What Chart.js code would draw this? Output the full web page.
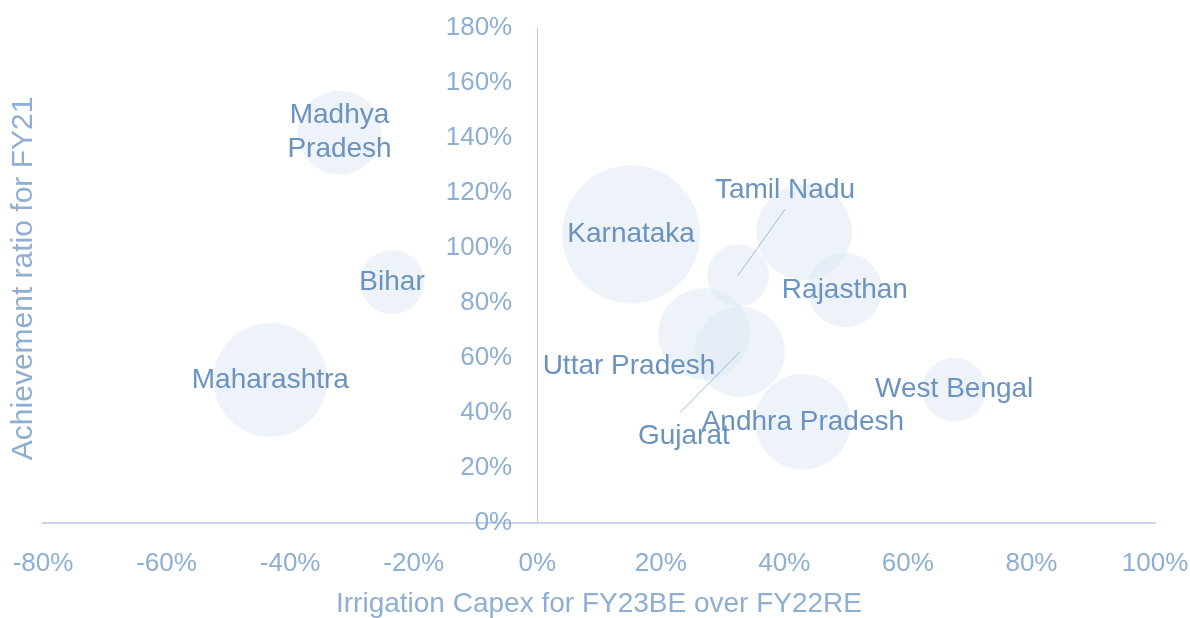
<!DOCTYPE html>
<html>
<head>
<meta charset="utf-8">
<script src="https://cdn.jsdelivr.net/npm/chart.js@4"></script>
<style>
  body { margin: 0; background: #fff; }
  #wrap { width: 1190px; height: 618px; }
</style>
</head>
<body>
<div id="wrap"><canvas id="myChart"></canvas></div>
<script>
// values
const states = ['Madhya Pradesh', 'Bihar', 'Maharashtra', 'Karnataka', '', 'Tamil Nadu',
  'Rajasthan', 'Uttar Pradesh', 'Gujarat', 'Andhra Pradesh', 'West Bengal'];
const capexGrowth = [-32, -23.5, -43.2, 15.2, 43.2, 32.5, 49.8, 27, 32.8, 43, 67.5];   // x, %
const achievementRatio = [142, 87.6, 52, 105, 105.8, 90, 84.7, 68.7, 62.2, 36.7, 48.4]; // y, %
const bubbleSize = [37, 21.5, 68, 100, 48, 20, 29, 44, 42.5, 48, 21.5];                 // relative
const xTicks = [-80, -60, -40, -20, 0, 20, 40, 60, 80, 100];
const yTicks = [0, 20, 40, 60, 80, 100, 120, 140, 160, 180];

// label placement (pixel offsets from bubble centre), only where label is not centred
const labelOffset = {
  'Tamil Nadu': {dx: 47, dy: -85, leader: [47, -66]},
  'Uttar Pradesh': {dx: -75, dy: 32},
  'Gujarat': {dx: -56, dy: 84, leader: [-60, 61]},
};
const wrapLabel = {'Madhya Pradesh': ['Madhya', 'Pradesh']};

const labelColor = '#6a93bf';
const tickColor = '#8eaed2';
const fontFamily = '"Liberation Sans", Arial, sans-serif';

const bubbleLabels = {
  id: 'bubbleLabels',
  afterDatasetsDraw(chart) {
    const ctx = chart.ctx;
    const meta = chart.getDatasetMeta(0);
    ctx.save();
    ctx.font = '28px ' + fontFamily;
    ctx.textAlign = 'center';
    ctx.textBaseline = 'middle';
    meta.data.forEach((pt, i) => {
      const name = states[i];
      if (!name) return;
      const off = labelOffset[name] || {dx: 0, dy: 0};
      if (off.leader) {
        ctx.strokeStyle = '#9fb9d6';
        ctx.lineWidth = 1;
        ctx.beginPath();
        ctx.moveTo(pt.x, pt.y);
        ctx.lineTo(pt.x + off.leader[0], pt.y + off.leader[1]);
        ctx.stroke();
      }
      ctx.fillStyle = labelColor;
      const lines = wrapLabel[name] || [name];
      const lh = 34;
      lines.forEach((ln, k) => {
        const y = pt.y + off.dy + (k - (lines.length - 1) / 2) * lh;
        ctx.fillText(ln, pt.x + off.dx, y);
      });
    });
    ctx.restore();
  }
};

// y tick labels sit just left of the x=0 axis line; y title at far left
const yAxisText = {
  id: 'yAxisText',
  afterDraw(chart) {
    const {ctx, chartArea} = chart;
    const xs = chart.scales.x, ys = chart.scales.y;
    const x0 = xs.getPixelForValue(0);
    ctx.save();
    ctx.font = '26px ' + fontFamily;
    ctx.fillStyle = tickColor;
    ctx.textAlign = 'right';
    ctx.textBaseline = 'middle';
    ys.ticks.forEach(t => ctx.fillText(t.value + '%', x0 - 25, ys.getPixelForValue(t.value)));
    ctx.translate(24, (chartArea.top + chartArea.bottom) / 2 + 3);
    ctx.rotate(-Math.PI / 2);
    ctx.font = '30px ' + fontFamily;
    ctx.textAlign = 'center';
    ctx.fillText('Achievement ratio for FY21', 0, 0);
    ctx.restore();
  }
};

new Chart(document.getElementById('myChart').getContext('2d'), {
  type: 'bubble',
  data: {
    labels: states,
    datasets: [{
      data: states.map((s, i) => ({x: capexGrowth[i], y: achievementRatio[i], v: bubbleSize[i]})),
      radius: ctx => 6.9 * Math.sqrt(ctx.raw.v),
      backgroundColor: 'rgba(221,231,243,0.5)',
      borderWidth: 0,
      clip: false,
    }]
  },
  options: {
    responsive: true,
    maintainAspectRatio: false,
    animation: false,
    layout: {autoPadding: false, padding: {left: 43, right: 35, top: 28, bottom: 0}},
    plugins: {legend: {display: false}, tooltip: {enabled: false}},
    scales: {
      x: {
        type: 'linear',
        min: xTicks[0], max: xTicks[xTicks.length - 1],
        afterBuildTicks: s => { s.ticks = xTicks.map(v => ({value: v})); },
        afterFit: s => { s.paddingLeft = 0; s.paddingRight = 0; },
        grid: {display: false, drawTicks: false},
        border: {display: true, color: '#c8d8ea', width: 2},
        ticks: {color: tickColor, font: {size: 26, family: fontFamily}, padding: 25,
          maxRotation: 0, callback: v => v + '%'},
        title: {display: true, text: 'Irrigation Capex for FY23BE over FY22RE', color: tickColor,
          font: {size: 28, family: fontFamily, lineHeight: 1}, padding: {top: -14, bottom: 0}}
      },
      y: {
        type: 'linear',
        position: {x: 0},
        min: yTicks[0], max: yTicks[yTicks.length - 1],
        afterBuildTicks: s => { s.ticks = yTicks.map(v => ({value: v})); },
        grid: {display: false, drawTicks: false},
        border: {display: true, color: '#b9cde3', width: 1},
        ticks: {display: false}
      }
    }
  },
  plugins: [bubbleLabels, yAxisText]
});
</script>
</body>
</html>
